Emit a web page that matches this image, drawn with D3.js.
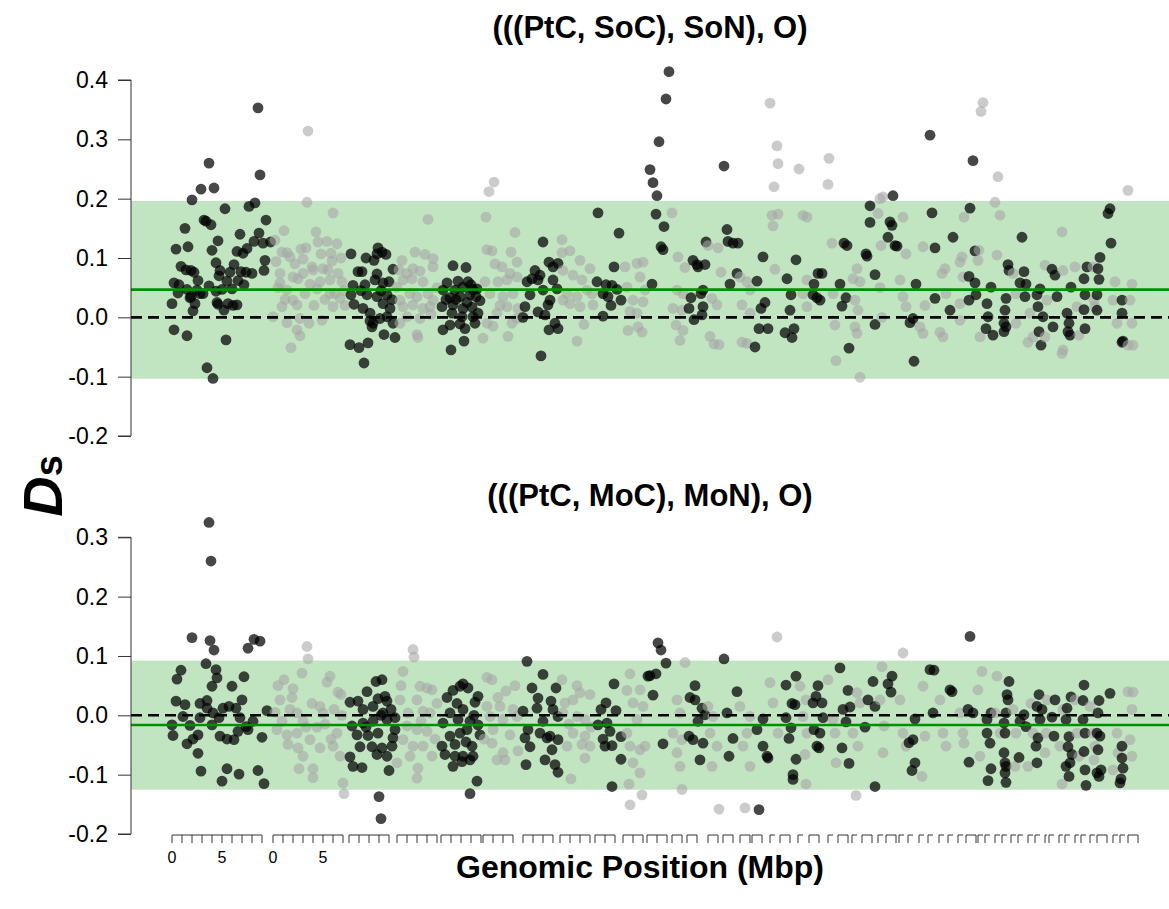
<!DOCTYPE html>
<html>
<head>
<meta charset="utf-8">
<script src="https://cdn.jsdelivr.net/npm/d3@7"></script>
<style>
  body { margin: 0; background: #fff; }
  svg text { font-family: "Liberation Sans", Arial, Helvetica, sans-serif; }
</style>
</head>
<body>
<script>
// scaffold lengths (Mbp), laid end to end with a small gap
const scaffoldLengths = [9.9, 7.4, 4.6, 4.2, 4.0, 3.8, 3.5, 3.3, 2.6, 2.2, 2.3, 1.3, 1.9, 1.3, 1.5, 1.0, 1.6, 0.8,
  1.6, 0.9, 1.7, 0.8, 1.2, 0.8, 1.4, 0.6, 1.1, 0.7, 0.9, 0.7, 0.9, 0.7, 0.8, 0.6, 1.0, 0.5, 0.8, 0.5, 0.7, 0.5,
  0.8, 0.5, 0.8, 0.2, 0.8, 0.4, 0.8, 0.4, 0.7, 0.5, 1.4, 0.5, 0.6, 1.0]
const scaffoldGap = 0.2
const labelledScaffolds = 2
const tickLabels = [0, 5]

const panelTitles = ['(((PtC, SoC), SoN), O)', '(((PtC, MoC), MoN), O)']
const topTicks = [-0.2, -0.1, 0.0, 0.1, 0.2, 0.3, 0.4]
const bottomTicks = [-0.2, -0.1, 0.0, 0.1, 0.2, 0.3]
const topBand = [-0.1035, 0.196]
const bottomBand = [-0.1253, 0.0922]
const topMean = 0.0467
const bottomMean = -0.0163

// [position along concatenated scaffolds (Mbp), Ds]
const topPoints = [
  [8.6,0.353],[3.7,0.26],[8.8,0.24],[2.9,0.216],[4.2,0.218],[2.0,0.198],[7.7,0.187],[8.3,0.193],[5.3,0.183],[3.2,0.164],
  [3.4,0.162],[3.9,0.156],[9.4,0.164],[1.3,0.15],[6.8,0.14],[8.7,0.142],[8.2,0.128],[9.1,0.125],[9.85,0.127],[0.4,0.115],
  [1.6,0.119],[4.0,0.113],[6.5,0.111],[7.1,0.108],[4.4,0.092],[9.3,0.096],[0.9,0.086],[6.2,0.089],[1.9,0.079],[4.8,0.079],
  [9.2,0.079],[5.8,0.076],[6.9,0.077],[7.4,0.076],[8.0,0.074],[2.2,0.076],[4.7,0.07],[2.6,0.062],[6.6,0.062],[0.2,0.058],
  [0.7,0.055],[3.7,0.053],[5.0,0.047],[6.0,0.048],[2.5,0.046],[1.5,0.047],[0.6,0.041],[4.4,0.044],[2.8,0.04],[1.8,0.033],
  [5.6,0.023],[4.5,0.025],[6.5,0.021],[5.2,0.012],[0.0,0.023],[2.1,0.011],[0.2,-0.021],[1.5,-0.031],[5.4,-0.038],
  [3.5,-0.085],[4.1,-0.103],[4.6,0.129],[7.5,0.116],[5.5,0.061],[4.6,0.022],[3.1,0.04],[1.9,0.035],[2.3,0.023],[1.4,0.08],
  [6.1,0.02],[7.2,0.055],
  [13.6,0.314],[13.5,0.194],[16.1,0.176],[11.2,0.146],[14.4,0.144],[14.6,0.127],[15.5,0.128],[16.5,0.124],[13.4,0.117],
  [11.0,0.11],[11.5,0.109],[13.1,0.098],[14.9,0.107],[15.9,0.108],[11.8,0.102],[10.4,0.094],[14.1,0.08],[15.1,0.082],
  [15.6,0.08],[12.1,0.068],[12.6,0.065],[10.8,0.074],[13.8,0.056],[15.8,0.063],[16.6,0.074],[10.8,0.058],[11.5,0.046],
  [14.5,0.048],[16.3,0.04],[16.8,0.032],[11.0,0.018],[12.1,0.029],[12.5,0.021],[10.1,0.001],[11.5,-0.009],[12.8,-0.002],
  [12.5,-0.021],[12.8,-0.031],[11.9,-0.051],[16.1,0.018],[15.8,0.04],[14.0,0.085],[13.1,0.074],[10.6,0.05],[11.3,0.03],
  [12.3,0.09],[13.3,0.04],[14.2,0.02],[14.8,0.06],[15.3,0.03],[16.0,0.095],[17.0,0.06],[17.3,0.02],[13.7,-0.01],
  [15.0,-0.005],[10.3,0.13],[12.9,0.115],[16.9,0.1],[17.2,0.045],
  [17.9,0.107],[18.6,0.077],[19.0,0.077],[20.6,0.117],[20.5,0.107],[21.4,0.106],[21.0,0.11],[20.2,0.096],[22.1,0.081],
  [20.5,0.073],[18.1,0.054],[19.3,0.055],[20.3,0.063],[21.1,0.058],[17.9,0.038],[19.5,0.038],[20.5,0.035],[21.5,0.038],
  [22.0,0.03],[18.2,0.022],[19.1,0.015],[21.1,0.023],[21.8,0.015],[19.8,0.007],[20.8,-0.002],[21.5,0.001],[20.1,-0.01],
  [20.0,-0.016],[22.1,-0.01],[19.8,-0.006],[21.2,-0.029],[22.3,-0.034],[19.6,-0.043],[17.8,-0.046],[18.7,-0.051],
  [19.2,-0.077],[18.9,0.045],[20.9,0.045],[21.7,0.06],[19.4,0.1],
  [25.6,0.165],[23.0,0.096],[25.3,0.106],[26.1,0.099],[24.1,0.082],[23.5,0.074],[24.8,0.078],[26.1,0.085],[22.5,0.051],
  [23.1,0.063],[24.0,0.065],[25.1,0.06],[22.8,0.029],[23.8,0.04],[24.5,0.035],[25.6,0.04],[26.1,0.029],[23.1,0.018],
  [24.1,0.021],[25.1,0.015],[25.8,0.018],[23.5,0.001],[24.8,-0.002],[22.8,-0.01],[24.5,-0.029],[24.6,-0.034],[26.5,0.05],
  [22.7,0.08],[24.3,0.11],[25.9,0.005],
  [28.1,0.087],[29.4,0.084],[27.5,0.058],[28.6,0.061],[29.6,0.06],[30.5,0.048],[27.1,0.046],[28.3,0.046],[29.1,0.051],
  [30.1,0.047],[27.8,0.033],[28.8,0.035],[29.8,0.038],[30.8,0.028],[27.0,0.018],[28.1,0.021],[29.1,0.015],[30.0,0.017],
  [30.6,0.007],[28.0,0.007],[29.0,0.001],[30.1,0.001],[27.8,-0.013],[28.8,-0.011],[30.3,-0.01],[27.1,-0.021],
  [29.3,-0.019],[29.2,-0.04],[27.9,-0.055],[28.4,0.03],[29.5,0.025],[30.4,0.035],[27.4,0.03],[29.9,0.055],
  [32.2,0.228],[31.7,0.212],[31.4,0.169],[34.3,0.143],[31.5,0.114],[32.0,0.112],[33.0,0.085],[34.5,0.093],[33.8,0.074],
  [32.6,0.06],[33.5,0.063],[34.5,0.068],[31.8,0.04],[33.1,0.035],[34.1,0.04],[33.5,0.018],[34.6,0.015],[32.5,0.007],
  [31.1,-0.035],[33.6,-0.032],[31.5,-0.01],[34.5,-0.002],[32.3,0.09],[31.3,0.06],[32.8,0.02],[33.9,0.11],[34.0,-0.01],
  [32.1,-0.015],
  [37.1,0.127],[37.7,0.093],[38.1,0.085],[38.6,0.091],[36.3,0.079],[36.8,0.071],[35.5,0.06],[36.0,0.065],[36.6,0.063],
  [38.1,0.063],[35.8,0.038],[37.1,0.046],[38.5,0.048],[35.3,0.018],[36.6,0.009],[37.6,0.021],[37.8,0.029],[35.1,0.0],
  [37.3,0.004],[38.3,-0.01],[37.7,-0.021],[38.6,-0.019],[36.9,-0.065],
  [39.0,0.131],[39.8,0.112],[39.0,0.109],[40.8,0.096],[41.8,0.082],[39.1,0.079],[40.1,0.071],[41.0,0.063],[39.5,0.04],
  [40.5,0.035],[41.5,0.046],[39.8,0.023],[40.8,0.018],[42.1,0.021],[41.2,-0.012],[40.5,-0.04],[42.0,0.04],[39.1,0.029],
  [42.6,0.176],[44.7,0.142],[44.2,0.085],[44.0,0.054],[44.5,0.047],[43.1,0.04],[43.6,0.035],[44.9,0.029],[43.1,0.002],
  [42.5,0.06],[43.4,0.055],[43.9,0.02],
  [46.5,0.091],[47.1,0.093],[45.5,0.051],[46.8,0.068],[47.3,0.046],[46.1,0.029],[47.1,0.026],[45.6,-0.022],[46.6,-0.016],
  [47.0,-0.025],[46.5,0.007],[45.3,0.085],[45.8,0.01],
  [49.7,0.414],[49.4,0.368],[48.7,0.296],[47.8,0.249],[48.1,0.227],[48.5,0.205],[48.4,0.174],[49.2,0.153],[48.9,0.119],
  [49.1,0.114],[48.0,0.056],
  [50.0,0.176],[50.6,0.102],[51.3,0.084],[50.5,0.046],[51.1,0.04],[50.1,0.015],[51.0,0.012],[50.4,-0.013],[50.8,-0.039],
  [51.1,-0.022],
  [53.4,0.127],[52.1,0.096],[52.6,0.085],[53.3,0.089],[52.5,0.089],[52.9,0.04],[53.1,0.046],[51.9,0.033],[51.7,0.015],
  [52.2,-0.004],[53.1,0.018],[53.0,0.004],
  [53.6,0.121],[54.6,0.117],[54.9,0.076],[54.0,0.032],[54.5,0.021],[53.8,-0.032],[54.2,-0.045],[54.7,-0.046],
  [55.2,0.255],[55.5,0.148],[55.6,0.128],[56.1,0.125],[56.6,0.125],[56.5,0.074],[55.8,0.056],
  [56.8,0.068],[57.5,0.06],[57.8,0.046],[57.0,0.021],[57.8,0.007],[57.0,-0.042],[57.5,-0.044],
  [59.1,0.102],[58.5,0.061],[59.3,0.025],[58.9,0.015],[58.7,-0.019],[59.6,-0.019],[58.3,-0.05],
  [59.8,0.361],[60.5,0.289],[60.6,0.259],[60.2,0.22],[60.0,0.172],[60.6,0.174],[60.1,0.154],[60.3,0.081],
  [62.4,0.097],[61.5,0.065],[61.9,0.038],[61.8,0.012],[62.2,-0.019],[61.3,-0.026],[62.0,-0.034],
  [62.7,0.25],[63.1,0.172],[63.5,0.169],[63.5,0.063],[63.1,0.04],[63.5,0.018],
  [64.2,0.056],[64.6,0.074],[65.0,0.074],[64.1,0.038],[64.8,0.029],[64.5,0.033],
  [65.7,0.268],[65.6,0.224],[66.0,0.125],[66.1,0.04],[66.3,-0.013],[66.4,-0.073],
  [66.8,0.056],[67.2,0.125],[67.5,0.121],[67.4,0.033],[67.0,0.019],[67.7,-0.052],
  [68.1,0.065],[68.5,0.082],[68.8,0.06],[68.3,0.029],[68.6,0.012],[68.3,-0.016],[68.5,-0.027],[68.8,-0.101],
  [69.8,0.188],[69.8,0.16],[69.4,0.107],[69.5,0.103],[70.3,0.072],[70.3,-0.012],
  [70.9,0.121],[70.8,0.2],[71.1,0.203],[70.6,0.175],[70.8,0.05],[71.0,0.0],
  [72.1,0.205],[71.8,0.161],[72.0,0.155],[71.6,0.135],[72.3,0.121],[72.5,0.12],
  [73.1,0.169],[73.4,0.107],[72.8,0.063],[73.1,0.035],[73.4,0.018],
  [74.2,-0.074],[73.8,-0.009],[74.1,-0.002],[74.4,0.056],
  [75.1,-0.027],[74.8,-0.016],[75.1,0.119],[75.3,0.02],
  [75.8,0.307],[76.0,0.176],[76.3,0.117],[76.3,0.032],
  [77.0,0.074],[77.3,0.082],[76.8,-0.025],[77.1,-0.033],[77.4,0.04],
  [77.8,0.012],[78.1,0.135],
  [79.0,0.102],[78.8,0.093],[79.2,0.169],[79.1,0.068],[78.8,0.023],[78.8,-0.005],
  [80.1,0.264],[79.8,0.184],[80.3,0.112],[79.7,0.069],[80.3,0.058],[80.4,0.038],[79.7,0.029],
  [81.1,0.362],[80.9,0.347],[80.6,0.096],[80.7,0.113],[80.8,-0.033],
  [81.9,0.051],[81.5,0.023],[81.6,0.001],[81.4,-0.019],[82.1,-0.03],
  [82.6,0.237],[82.3,0.194],[82.8,0.172],[82.5,0.105],
  [83.6,0.089],[83.7,0.079],[83.4,0.032],[83.3,0.012],[83.2,-0.01],[83.4,-0.016],[83.2,-0.024],
  [84.1,0.074],[84.4,0.04],[84.4,-0.01],
  [85.0,0.135],[85.2,0.077],[84.8,0.058],[85.4,0.056],[85.3,0.035],
  [85.6,-0.042],[86.1,-0.033],[85.8,0.007],
  [86.8,0.048],[86.5,0.038],[86.6,0.018],[87.1,0.001],[86.7,-0.024],[86.9,-0.047],
  [87.3,0.088],[87.5,0.029],[87.3,-0.033],
  [88.0,0.081],[88.3,0.071],[88.1,-0.016],[88.5,0.035],
  [89.0,0.144],[89.1,0.079],[89.0,-0.061],[89.1,-0.055],
  [89.9,0.051],[89.5,0.007],[89.7,-0.01],[89.8,-0.03],[89.6,-0.024],
  [90.3,0.085],[90.5,0.018],[90.7,-0.03],
  [91.5,0.085],[91.2,0.065],[91.3,0.038],[91.2,0.013],[91.3,-0.019],
  [92.1,0.085],[92.3,0.018],[92.2,0.029],
  [93.8,0.183],[93.6,0.175],[93.9,0.125],[92.8,0.101],[92.6,0.082],[92.7,0.064],[92.5,0.038],[92.5,0.012],
  [94.1,0.029],[94.5,-0.01],[94.3,0.06],
  [95.0,0.029],[95.0,0.007],[95.1,-0.04],[95.0,-0.042],
  [95.6,0.214],[96.0,0.056],[95.8,0.029],[96.0,-0.01],[95.6,-0.047],[96.1,-0.047]
]

const bottomPoints = [
  [3.7,0.325],[3.9,0.26],[2.0,0.131],[3.8,0.126],[4.2,0.11],[7.6,0.113],[8.2,0.128],[8.8,0.125],[3.4,0.087],[0.9,0.076],
  [0.5,0.061],[4.4,0.077],[4.5,0.063],[7.2,0.065],[4.0,0.049],[6.0,0.049],[0.4,0.024],[1.3,0.018],[3.5,0.025],[3.5,0.012],
  [5.1,0.012],[5.7,0.015],[6.4,0.012],[7.0,0.026],[9.5,0.008],[1.1,-0.002],[2.8,-0.004],[0.0,-0.016],[1.8,-0.017],
  [4.0,-0.016],[4.7,-0.004],[6.8,-0.004],[8.1,-0.01],[0.1,-0.034],[1.5,-0.048],[2.6,-0.033],[2.1,-0.04],[4.8,-0.035],
  [5.5,-0.04],[6.2,-0.041],[6.6,-0.027],[7.4,-0.019],[9.0,-0.037],[2.6,-0.064],[2.9,-0.094],[5.5,-0.09],[6.7,-0.099],
  [8.6,-0.093],[5.0,-0.111],[9.2,-0.115],[7.6,-0.024],[4.1,0.004],[2.8,0.02],
  [13.5,0.116],[13.6,0.095],[13.0,0.071],[11.2,0.06],[12.1,0.045],[10.8,0.026],[11.8,0.01],[12.5,0.004],[15.8,0.066],
  [15.5,0.056],[16.6,0.039],[14.8,0.015],[15.1,0.004],[10.5,-0.024],[11.5,-0.033],[12.5,-0.03],[13.1,-0.01],
  [11.6,-0.049],[12.6,-0.055],[13.8,-0.041],[14.8,-0.055],[13.1,-0.069],[12.7,-0.09],[14.1,-0.09],[14.1,-0.105],
  [16.1,-0.052],[16.8,-0.069],[17.1,-0.114],[17.2,-0.132],[16.5,-0.03],[10.3,0.005],[11.0,-0.01],[12.0,0.03],[14.0,0.02],
  [14.5,-0.02],[15.3,-0.015],[16.2,0.01],[17.0,0.0],[15.9,-0.04],[13.4,-0.02],[10.6,0.05],[16.9,0.035],
  [20.4,0.057],[21.0,0.06],[17.8,0.022],[18.6,0.024],[21.3,0.032],[21.5,0.024],[20.6,0.028],[19.1,0.01],[20.1,0.015],
  [21.1,0.004],[22.3,-0.004],[18.0,-0.018],[19.1,-0.013],[20.1,-0.01],[21.5,-0.007],[22.3,-0.024],[18.5,-0.033],
  [19.6,-0.034],[20.6,-0.03],[22.1,-0.038],[18.8,-0.053],[20.0,-0.053],[21.0,-0.055],[22.0,-0.052],[17.8,-0.07],
  [20.5,-0.066],[21.5,-0.069],[18.1,-0.086],[19.0,-0.088],[21.7,-0.093],[20.7,-0.137],[20.9,-0.174],[19.5,0.04],
  [20.9,0.0],[19.4,-0.02],[21.9,0.01],
  [24.1,0.111],[24.2,0.098],[23.1,0.074],[24.8,0.049],[25.5,0.046],[26.0,0.043],[24.5,0.026],[22.8,0.026],[23.6,0.004],
  [25.1,0.007],[25.8,0.004],[23.5,-0.018],[24.5,-0.024],[25.5,-0.027],[23.1,-0.041],[24.1,-0.052],[25.1,-0.052],
  [23.8,-0.069],[26.0,-0.069],[24.6,-0.089],[24.5,-0.106],[22.5,-0.08],[26.5,0.02],[22.9,0.05],[26.3,-0.04],[24.9,-0.01],
  [28.1,0.042],[29.1,0.053],[29.6,0.046],[28.8,0.049],[30.6,0.032],[30.3,0.022],[27.8,0.004],[29.1,0.01],[27.1,-0.013],
  [28.6,-0.007],[29.8,-0.01],[30.6,-0.016],[27.8,-0.035],[28.8,-0.03],[29.5,-0.024],[30.8,-0.033],[28.3,-0.049],
  [30.0,-0.052],[27.0,-0.052],[27.3,-0.066],[28.3,-0.069],[29.1,-0.069],[30.1,-0.069],[28.1,-0.086],[29.0,-0.078],
  [29.8,-0.075],[30.5,-0.111],[29.8,-0.132],[28.5,0.02],[27.5,0.03],[29.4,-0.045],[30.2,0.0],
  [31.5,0.064],[32.0,0.06],[33.4,0.041],[31.5,0.015],[32.8,0.015],[34.1,0.01],[31.8,-0.002],[33.1,-0.007],[34.5,-0.002],
  [32.1,-0.024],[33.8,-0.033],[32.0,-0.047],[33.1,-0.063],[32.5,-0.075],[33.3,-0.075],[34.3,0.05],[31.2,-0.04],
  [34.6,-0.06],[32.6,0.03],
  [35.5,0.091],[37.1,0.069],[36.0,0.046],[38.4,0.046],[36.6,0.029],[37.9,0.024],[35.1,0.007],[36.5,0.012],[38.1,0.01],
  [37.1,-0.01],[38.6,-0.002],[35.6,-0.024],[36.8,-0.03],[37.8,-0.035],[35.3,-0.038],[37.5,-0.038],[38.6,-0.041],
  [35.8,-0.053],[38.0,-0.058],[37.3,-0.075],[38.3,-0.083],[35.4,-0.083],[38.6,-0.096],
  [39.3,0.021],[40.1,0.026],[40.8,0.038],[41.8,0.035],[39.1,0.004],[40.5,-0.002],[41.3,-0.007],[40.1,-0.03],[41.3,-0.035],
  [39.5,-0.052],[41.0,-0.049],[41.8,-0.052],[41.3,-0.072],[39.9,-0.107],[39.0,0.06],[40.5,0.05],[41.9,-0.02],[39.7,-0.015],
  [44.2,0.053],[43.4,0.021],[44.4,0.008],[42.6,-0.016],[43.5,-0.013],[43.8,-0.027],[44.9,-0.036],[43.3,-0.052],
  [44.0,-0.051],[44.9,-0.074],[44.0,-0.12],[42.9,0.01],[43.1,-0.04],
  [45.8,0.07],[46.8,0.043],[45.5,0.042],[46.1,0.021],[47.1,0.015],[46.5,-0.007],[45.5,-0.03],[45.8,-0.052],[46.8,-0.058],
  [47.3,-0.052],[46.1,-0.08],[46.8,-0.097],[45.7,-0.116],[47.0,-0.134],[45.8,-0.151],
  [48.6,0.122],[48.9,0.11],[49.4,0.088],[47.8,0.067],[48.4,0.07],[48.1,0.034],[49.1,-0.048],[47.6,0.066],
  [51.3,0.089],[50.5,0.026],[50.8,0.004],[50.1,-0.03],[51.0,-0.041],[50.5,-0.063],[50.8,-0.086],[51.0,-0.125],
  [52.3,0.05],[51.8,0.03],[52.3,0.026],[53.0,0.012],[53.3,0.001],[52.6,-0.01],[51.7,-0.035],[52.1,-0.041],[53.1,-0.047],
  [52.8,-0.075],
  [54.7,-0.158],[53.8,-0.03],[54.5,-0.052],[54.0,-0.086],[53.6,0.015],[54.1,-0.002],
  [55.2,0.095],[56.5,0.04],[55.5,0.004],[56.1,-0.039],[55.7,-0.069],
  [57.3,-0.156],[56.8,0.015],[57.8,-0.002],[57.5,-0.03],[57.1,-0.052],[57.8,-0.086],
  [58.7,-0.159],[58.5,-0.024],[59.1,-0.052],[59.5,-0.069],[59.6,-0.072],[59.1,-0.006],
  [60.5,0.132],[59.8,0.055],[60.1,0.021],[60.6,-0.03],
  [61.4,0.051],[62.4,0.066],[61.4,-0.004],[62.0,0.02],[62.3,0.018],[61.9,-0.021],[61.7,-0.039],[62.4,-0.074],
  [62.1,-0.1],[62.1,-0.108],
  [62.8,0.049],[63.4,0.026],[63.1,-0.002],[63.5,-0.03],[63.3,-0.066],[63.4,-0.116],
  [64.6,0.05],[64.4,0.032],[65.0,0.021],[64.1,0.021],[65.1,-0.004],[64.2,-0.024],[64.8,-0.03],[64.7,-0.055],[64.5,-0.052],
  [65.6,0.06],[66.1,-0.007],[66.3,-0.03],[66.4,-0.08],
  [66.8,0.08],[67.6,0.042],[67.1,0.01],[67.8,0.014],[67.4,-0.011],[67.0,-0.055],[67.7,-0.081],
  [68.8,0.021],[68.1,-0.03],[68.6,-0.052],[68.4,-0.135],[68.5,0.038],
  [70.1,0.057],[69.6,0.026],[70.3,0.015],[69.3,-0.02],[70.3,-0.12],
  [71.0,0.082],[70.8,0.026],[71.2,-0.018],[71.1,-0.063],
  [72.0,0.066],[71.6,0.053],[71.9,0.039],
  [73.1,0.105],[72.8,0.026],[73.1,-0.03],[73.4,-0.052],
  [74.3,-0.006],[74.1,-0.041],[73.7,-0.046],[74.3,-0.08],[74.0,-0.093],
  [75.1,0.049],[75.3,-0.035],[75.0,-0.103],
  [75.8,0.077],[76.2,0.076],[76.1,0.004],
  [76.8,0.026],[77.1,-0.03],[77.4,-0.052],
  [77.8,0.043],[78.0,0.04],
  [78.8,0.004],[79.1,-0.03],[79.2,-0.047],
  [79.8,0.133],[79.6,0.01],[80.1,0.004],[79.7,-0.079],
  [81.0,0.074],[80.6,0.043],[80.8,-0.069],
  [81.9,0.004],[81.5,-0.007],[81.5,-0.03],[81.8,-0.047],[81.9,-0.09],[81.6,-0.11],
  [82.5,0.066],[82.3,0.004],[82.8,-0.03],
  [83.7,0.057],[83.5,0.035],[83.6,0.026],[83.4,0.004],[83.2,-0.013],[83.3,-0.03],[83.2,-0.063],[83.3,-0.08],
  [83.4,-0.086],[83.3,-0.097],[83.4,-0.113],
  [84.1,0.01],[84.4,-0.03],[84.3,-0.086],
  [85.2,0.001],[84.8,-0.01],[85.4,-0.019],[84.7,-0.071],
  [85.6,-0.086],[86.1,-0.03],[85.9,0.02],
  [86.7,0.035],[86.5,0.015],[87.0,0.01],[86.8,-0.007],[86.6,-0.038],[86.4,-0.052],[86.5,-0.08],
  [87.5,0.026],[87.4,-0.03],[87.3,-0.063],
  [88.3,0.026],[88.0,-0.003],[88.2,-0.035],
  [89.0,-0.116],[89.1,0.01],[88.8,-0.052],
  [89.9,0.031],[89.5,0.012],[89.4,-0.007],[89.7,-0.036],[89.6,-0.053],[90.0,-0.066],[89.8,-0.08],[89.4,-0.086],[89.7,-0.103],
  [90.3,0.026],[90.5,-0.03],[90.7,-0.069],
  [91.2,0.051],[91.1,0.025],[91.1,-0.007],[91.3,-0.03],[91.2,-0.061],[91.3,-0.092],[91.4,-0.118],
  [92.1,-0.03],[92.3,-0.052],[91.8,0.015],[92.2,-0.075],
  [93.8,0.037],[92.7,0.025],[92.6,0.004],[92.5,-0.03],[92.8,-0.035],[92.6,-0.058],[92.5,-0.097],[92.7,-0.103],[92.9,-0.092],
  [94.5,-0.03],[94.1,-0.092],[94.6,-0.063],
  [95.0,-0.052],[95.0,-0.072],[95.1,-0.089],[94.9,-0.107],[94.8,-0.114],
  [95.6,0.04],[96.1,0.039],[96.0,0.01],[95.8,-0.041],[96.0,-0.069]
]

const m = { width: 1169, height: 909 }

const svg = d3.select('body').append('svg')
  .attr('width', m.width)
  .attr('height', m.height)

// scaffold starts on the concatenated axis
const starts = []
let acc = 0
scaffoldLengths.forEach(function(len) {
  starts.push(acc)
  acc += len + scaffoldGap
})

const x = d3.scaleLinear().domain([-4.1, 99.7]).range([131, 1169])

function scaffoldOf(pos) {
  return Math.max(0, d3.bisectRight(starts, pos + 1e-9) - 1)
}

// R style labels: plain hyphen for negatives
const fmt = function(d) { return d3.format('.1f')(d).replace('\u2212', '-') }

const panels = [
  { title: panelTitles[0], points: topPoints, band: topBand, mean: topMean, ticks: topTicks,
    y: d3.scaleLinear().domain([-0.2, 0.4]).range([436, 80]), titleY: 38 },
  { title: panelTitles[1], points: bottomPoints, band: bottomBand, mean: bottomMean, ticks: bottomTicks,
    y: d3.scaleLinear().domain([-0.2, 0.3]).range([834, 537.3]), titleY: 506 }
]

panels.forEach(function(p) {
  const g = svg.append('g')

  // confidence band
  g.append('rect')
    .attr('x', x(-4.1))
    .attr('width', x(99.7) - x(-4.1))
    .attr('y', p.y(p.band[1]))
    .attr('height', p.y(p.band[0]) - p.y(p.band[1]))
    .attr('fill', '#c1e4c1')

  // points, alternating shade per scaffold
  g.selectAll('.pt')
    .data(p.points)
    .enter()
    .append('circle')
      .attr('class', 'pt')
      .attr('cx', function(d) { return x(d[0]) })
      .attr('cy', function(d) { return p.y(d[1]) })
      .attr('r', 5.4)
      .attr('fill', function(d) { return scaffoldOf(d[0]) % 2 === 0 ? '#000' : '#a6a6a6' })
      .attr('fill-opacity', function(d) { return scaffoldOf(d[0]) % 2 === 0 ? 0.72 : 0.58 })

  // zero line and mean line
  g.append('line')
    .attr('x1', x(-4.1)).attr('x2', x(99.7))
    .attr('y1', p.y(0)).attr('y2', p.y(0))
    .attr('stroke', '#000')
    .attr('stroke-width', 2.6)
    .attr('stroke-dasharray', '11,6')

  g.append('line')
    .attr('x1', x(-4.1)).attr('x2', x(99.7))
    .attr('y1', p.y(p.mean)).attr('y2', p.y(p.mean))
    .attr('stroke', '#009000')
    .attr('stroke-width', 2.6)

  // y axis
  const yAxis = d3.axisLeft(p.y)
    .tickValues(p.ticks)
    .tickFormat(fmt)
    .tickSize(13)
    .tickPadding(10)
  const ax = g.append('g')
    .attr('transform', 'translate(131,0)')
    .call(yAxis)
  ax.select('.domain').attr('stroke', '#333').attr('d',
    'M-13,' + p.y(p.ticks[0]) + 'H0V' + p.y(p.ticks[p.ticks.length - 1]) + 'H-13')
  ax.selectAll('.tick line').attr('stroke', '#333')
  ax.selectAll('.tick text')
    .attr('font-size', 23)
    .attr('fill', '#000')
    .style('font-family', '"Liberation Sans", Arial, sans-serif')

  g.append('text')
    .attr('x', 650)
    .attr('y', p.titleY)
    .attr('text-anchor', 'middle')
    .attr('font-size', 31)
    .attr('font-weight', 'bold')
    .text(p.title)
})

// per-scaffold position axes (1 Mbp ticks)
const tickY = 835
const axG = svg.append('g')
scaffoldLengths.forEach(function(len, i) {
  const s = starts[i]
  const n = Math.floor(len)
  const end = n >= 1 ? n : Math.min(0.5, len)
  axG.append('line')
    .attr('x1', x(s)).attr('x2', x(s + end))
    .attr('y1', tickY).attr('y2', tickY)
    .attr('stroke', '#333')
  d3.range(0, n + 1).forEach(function(k) {
    axG.append('line')
      .attr('x1', x(s + k)).attr('x2', x(s + k))
      .attr('y1', tickY).attr('y2', tickY + 8)
      .attr('stroke', '#333')
  })
  if (i < labelledScaffolds) {
    tickLabels.forEach(function(t) {
      axG.append('text')
        .attr('x', x(s + t))
        .attr('y', tickY + 28)
        .attr('text-anchor', 'middle')
        .attr('font-size', 16)
        .text(t)
    })
  }
})

svg.append('text')
  .attr('x', 640)
  .attr('y', 878)
  .attr('text-anchor', 'middle')
  .attr('font-size', 32)
  .attr('font-weight', 'bold')
  .text('Genomic Position (Mbp)')

const yl = svg.append('text')
  .attr('transform', 'translate(62,486) rotate(-90)')
  .attr('text-anchor', 'middle')
  .attr('font-weight', 'bold')
yl.append('tspan').attr('font-size', 56).attr('font-style', 'italic').text('D')
yl.append('tspan').attr('font-size', 38).text('s')
</script>
</body>
</html>
